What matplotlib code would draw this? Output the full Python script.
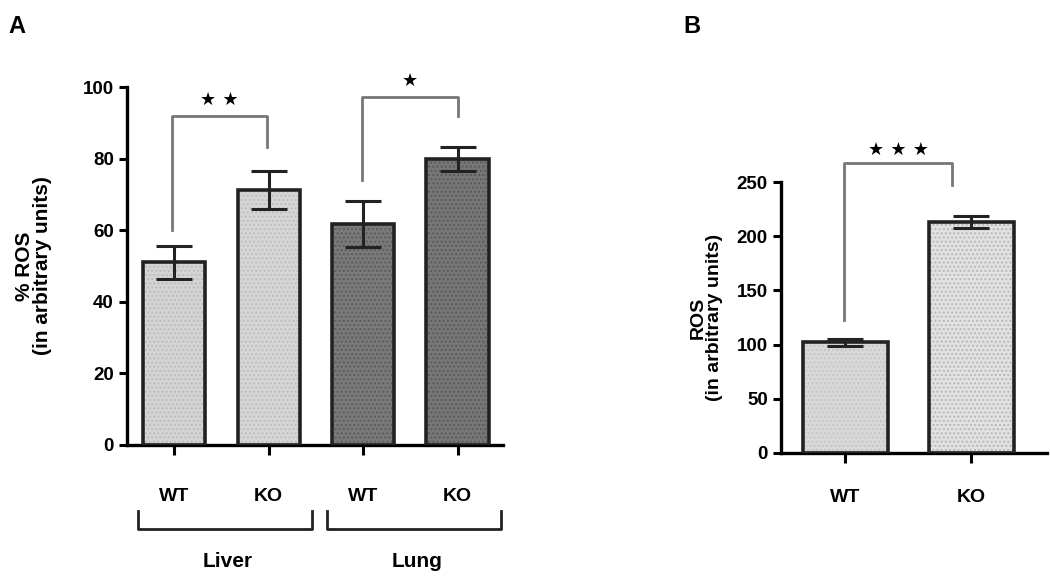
import matplotlib.pyplot as plt
import numpy as np

plt.rcParams['font.family'] = ['Liberation Sans', 'DejaVu Sans']
plt.rcParams['font.weight'] = 'bold'
plt.rcParams['hatch.linewidth'] = 1.0

# Panel A data
a_groups = ['WT', 'KO', 'WT', 'KO']
a_means = [51.0, 71.2, 61.7, 80.0]
a_errs = [4.6, 5.3, 6.4, 3.4]
a_colors = ['#d4d4d4', '#d6d6d6', '#7a7a7a', '#777777']
a_hatch_colors = ['#bcbcbc', '#bebebe', '#5c5c5c', '#5a5a5a']
tissues = ['Liver', 'Lung']

# Panel B data
b_groups = ['WT', 'KO']
b_means = [102.0, 213.0]
b_errs = [3.5, 5.5]
b_colors = ['#d8d8d8', '#e2e2e2']
b_hatch_colors = ['#c6c6c6', '#b8b8b8']

fig = plt.figure(figsize=(10.5, 5.8), dpi=100)
axA = fig.add_axes([0.121, 0.2328, 0.358, 0.617])
axB = fig.add_axes([0.7438, 0.219, 0.2533, 0.467])


def style_axis(ax, xpad):
    for s in ['top', 'right']:
        ax.spines[s].set_visible(False)
    for s in ['left', 'bottom']:
        ax.spines[s].set_linewidth(2.4)
    ax.tick_params(axis='both', width=2.2, length=6, labelsize=13.5)
    ax.tick_params(axis='x', length=7, pad=xpad, labelsize=14)


def draw_bars(ax, x, means, errs, colors, hcolors, width):
    ax.bar(x, means, width, color=colors, edgecolor=hcolors, hatch='....',
           linewidth=0, zorder=2)
    ax.bar(x, means, width, fill=False, edgecolor='#222222', linewidth=2.6, zorder=3)
    ax.errorbar(x, means, yerr=errs, fmt='none', ecolor='#222222',
                elinewidth=2.2, capsize=13, capthick=2.2, zorder=4)


def bracket(ax, x1, x2, ytop, yl, yr, label, ystar, fs=14):
    ax.plot([x1, x1, x2, x2], [yl, ytop, ytop, yr], color='#777777', lw=2.0,
            clip_on=False, zorder=5)
    ax.text((x1 + x2) / 2, ystar, label, ha='center', va='center',
            fontsize=fs, family='DejaVu Sans', clip_on=False)


# ---- Panel A ----
xa = np.arange(len(a_means))
draw_bars(axA, xa, a_means, a_errs, a_colors, a_hatch_colors, 0.66)
style_axis(axA, 24)
axA.set_xlim(-0.5, 3.48)
axA.set_ylim(0, 100)
axA.set_yticks([0, 20, 40, 60, 80, 100])
axA.set_xticks(xa)
axA.set_xticklabels(a_groups)
axA.set_ylabel('% ROS\n(in arbitrary units)', fontsize=15, fontweight='bold',
               labelpad=22, linespacing=0.95)

bracket(axA, -0.02, 0.98, 91.9, 60, 83.3, '★ ★', 96.4, fs=13)
bracket(axA, 1.99, 3.0, 97.2, 74, 92, '★', 101.6, fs=13)

# group brackets under the axis
for i, name in enumerate(tissues):
    x1, x2 = 2 * i - 0.38, 2 * i + 1.46
    yb1, yb2 = -18.5, -23.5
    axA.plot([x1, x1, x2, x2], [yb1, yb2, yb2, yb1], color='#222222', lw=2.0,
             clip_on=False)
    axA.text(2 * i + 0.57, -32.5, name, ha='center', va='center',
             fontsize=15, fontweight='bold')

# ---- Panel B ----
xb = np.arange(len(b_means))
draw_bars(axB, xb, b_means, b_errs, b_colors, b_hatch_colors, 0.67)
style_axis(axB, 19)
axB.set_xlim(-0.51, 1.6)
axB.set_ylim(0, 250)
axB.set_yticks([0, 50, 100, 150, 200, 250])
axB.set_xticks(xb)
axB.set_xticklabels(b_groups)
axB.set_ylabel('ROS\n(in arbitrary units)', fontsize=14, fontweight='bold',
               labelpad=10, linespacing=0.95)
bracket(axB, -0.01, 0.85, 267.5, 122.7, 247, '★ ★ ★', 280, fs=13)

fig.text(0.008, 0.955, 'A', fontsize=17, fontweight='bold', va='center')
fig.text(0.651, 0.955, 'B', fontsize=17, fontweight='bold', va='center')

fig.savefig('out.png', dpi=100)
